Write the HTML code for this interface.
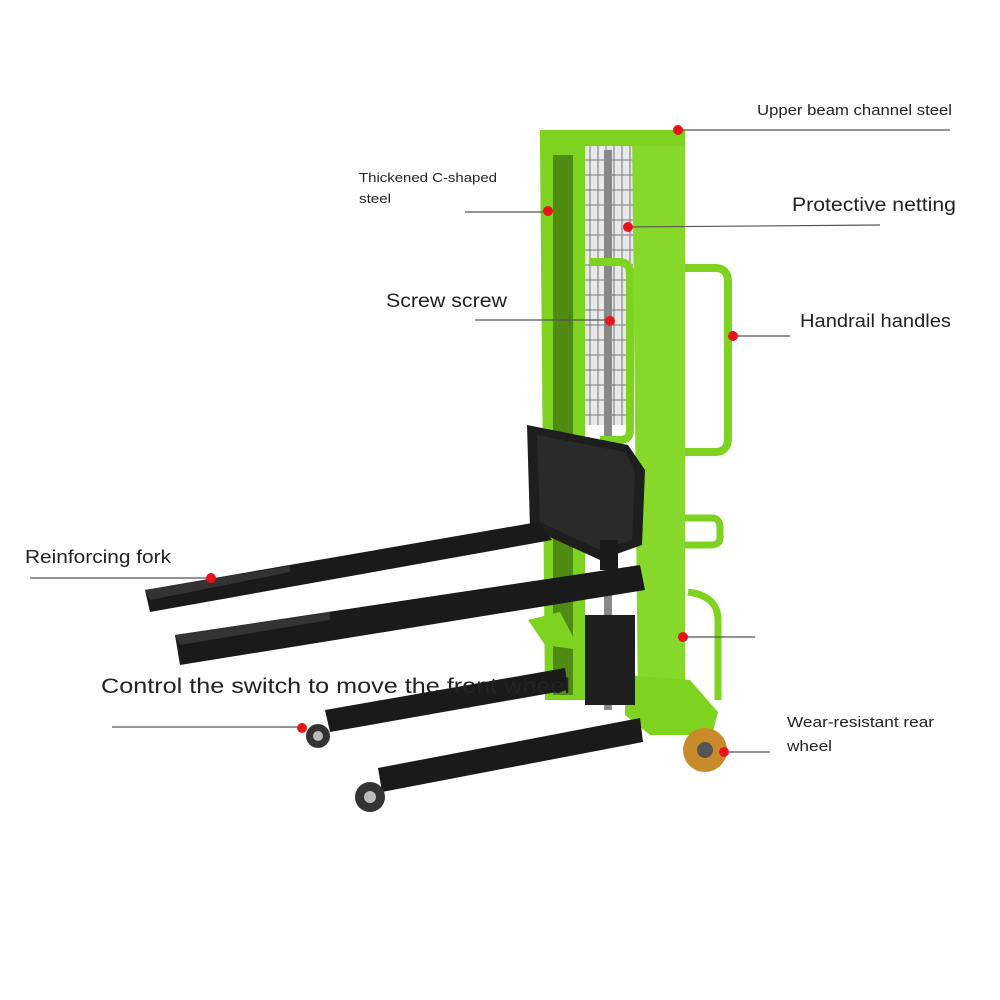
<!DOCTYPE html>
<html><head><meta charset="utf-8"><style>
html,body{margin:0;padding:0;background:#fff;width:1000px;height:1000px;overflow:hidden}
svg{display:block}
text{font-family:"Liberation Sans","DejaVu Sans",sans-serif;fill:#222}
</style></head><body>
<svg width="1000" height="1000" viewBox="0 0 1000 1000" xmlns="http://www.w3.org/2000/svg">
<rect width="1000" height="1000" fill="#fff"/>
<rect x="585" y="145" width="48" height="280" fill="#e8e8e8"/>
<g stroke="#777" stroke-width="1">
<path d="M590 145V425M598 145V425M606 145V425M614 145V425M622 145V425M630 145V425"/>
<path d="M585 160H633M585 175H633M585 190H633M585 205H633M585 220H633M585 235H633M585 250H633M585 265H633M585 280H633M585 295H633M585 310H633M585 325H633M585 340H633M585 355H633M585 370H633M585 385H633M585 400H633M585 415H633"/>
</g>
<rect x="604" y="150" width="8" height="560" fill="#888"/>
<path d="M590 262 H620 Q630 262 630 275 V430 Q630 440 620 440 H600" fill="none" stroke="#7ed321" stroke-width="8"/>
<polygon points="540,145 585,140 585,700 545,700" fill="#7ed321"/>
<rect x="553" y="155" width="20" height="540" fill="#4f8a12"/>
<polygon points="632,130 685,132 685,712 638,712" fill="#86d82a"/>
<rect x="540" y="130" width="145" height="16" fill="#7ed321"/>
<path d="M685 268 H715 Q728 268 728 282 V438 Q728 452 715 452 H685" fill="none" stroke="#7ed321" stroke-width="8"/>
<path d="M685 518 H712 Q720 518 720 528 V538 Q720 545 710 545 H685" fill="none" stroke="#7ed321" stroke-width="7"/>
<path d="M688 592 Q718 596 718 620 V700" fill="none" stroke="#7ed321" stroke-width="7"/>
<polygon points="625,675 690,680 718,712 712,735 650,735 625,715" fill="#7ed321"/>
<polygon points="528,620 560,612 580,650 545,645" fill="#7ed321"/>
<rect x="585" y="615" width="50" height="90" fill="#1f1f1f"/>
<polygon points="527,425 628,445 645,470 642,545 600,560 530,528" fill="#1e1e1e"/>
<polygon points="537,435 625,452 635,472 632,540 600,550 540,522" fill="#2a2a2a"/>
<polygon points="145,590 538,522 552,540 150,612" fill="#1a1a1a"/>
<polygon points="145,590 290,566 290,572 150,600" fill="#333"/>
<polygon points="175,635 640,565 645,590 180,665" fill="#1a1a1a"/>
<polygon points="175,635 330,612 330,620 180,645" fill="#333"/>
<rect x="600" y="540" width="18" height="30" fill="#1a1a1a"/>
<polygon points="325,710 565,668 568,690 330,732" fill="#1a1a1a"/>
<polygon points="378,768 640,718 643,742 382,792" fill="#1a1a1a"/>
<circle cx="318" cy="736" r="12" fill="#333"/><circle cx="318" cy="736" r="5" fill="#bbb"/>
<circle cx="370" cy="797" r="15" fill="#333"/><circle cx="370" cy="797" r="6" fill="#bbb"/>
<circle cx="705" cy="750" r="22" fill="#c98a2a"/><circle cx="705" cy="750" r="8" fill="#555"/>
<g stroke="#555" stroke-width="1.2">
<line x1="678" y1="130" x2="950" y2="130"/>
<line x1="465" y1="212" x2="548" y2="212"/>
<line x1="628" y1="227" x2="880" y2="225"/>
<line x1="475" y1="320" x2="610" y2="320"/>
<line x1="733" y1="336" x2="790" y2="336"/>
<line x1="30" y1="578" x2="210" y2="578"/>
<line x1="112" y1="727" x2="300" y2="727"/>
<line x1="724" y1="752" x2="770" y2="752"/>
<line x1="683" y1="637" x2="755" y2="637"/>
</g>
<g fill="#e8141b">
<circle cx="678" cy="130" r="5"/><circle cx="548" cy="211" r="5"/><circle cx="628" cy="227" r="5"/>
<circle cx="610" cy="321" r="5"/><circle cx="733" cy="336" r="5"/><circle cx="211" cy="578" r="5"/>
<circle cx="302" cy="728" r="5"/><circle cx="724" cy="752" r="5"/><circle cx="683" cy="637" r="5"/>
</g>
<text x="757" y="115" font-size="15" textLength="195" lengthAdjust="spacingAndGlyphs">Upper beam channel steel</text>
<text x="359" y="182" font-size="13" textLength="138" lengthAdjust="spacingAndGlyphs">Thickened C-shaped</text>
<text x="359" y="203" font-size="13" textLength="32" lengthAdjust="spacingAndGlyphs">steel</text>
<text x="792" y="211" font-size="19" textLength="164" lengthAdjust="spacingAndGlyphs">Protective netting</text>
<text x="386" y="307" font-size="19" textLength="121" lengthAdjust="spacingAndGlyphs">Screw screw</text>
<text x="800" y="327" font-size="18" textLength="151" lengthAdjust="spacingAndGlyphs">Handrail handles</text>
<text x="25" y="563" font-size="18" textLength="146" lengthAdjust="spacingAndGlyphs">Reinforcing fork</text>
<text x="101" y="693" font-size="21" textLength="469" lengthAdjust="spacingAndGlyphs">Control the switch to move the front wheel</text>
<text x="787" y="727" font-size="15" textLength="147" lengthAdjust="spacingAndGlyphs">Wear-resistant rear</text>
<text x="787" y="751" font-size="15" textLength="45" lengthAdjust="spacingAndGlyphs">wheel</text>
</svg>
</body></html>
